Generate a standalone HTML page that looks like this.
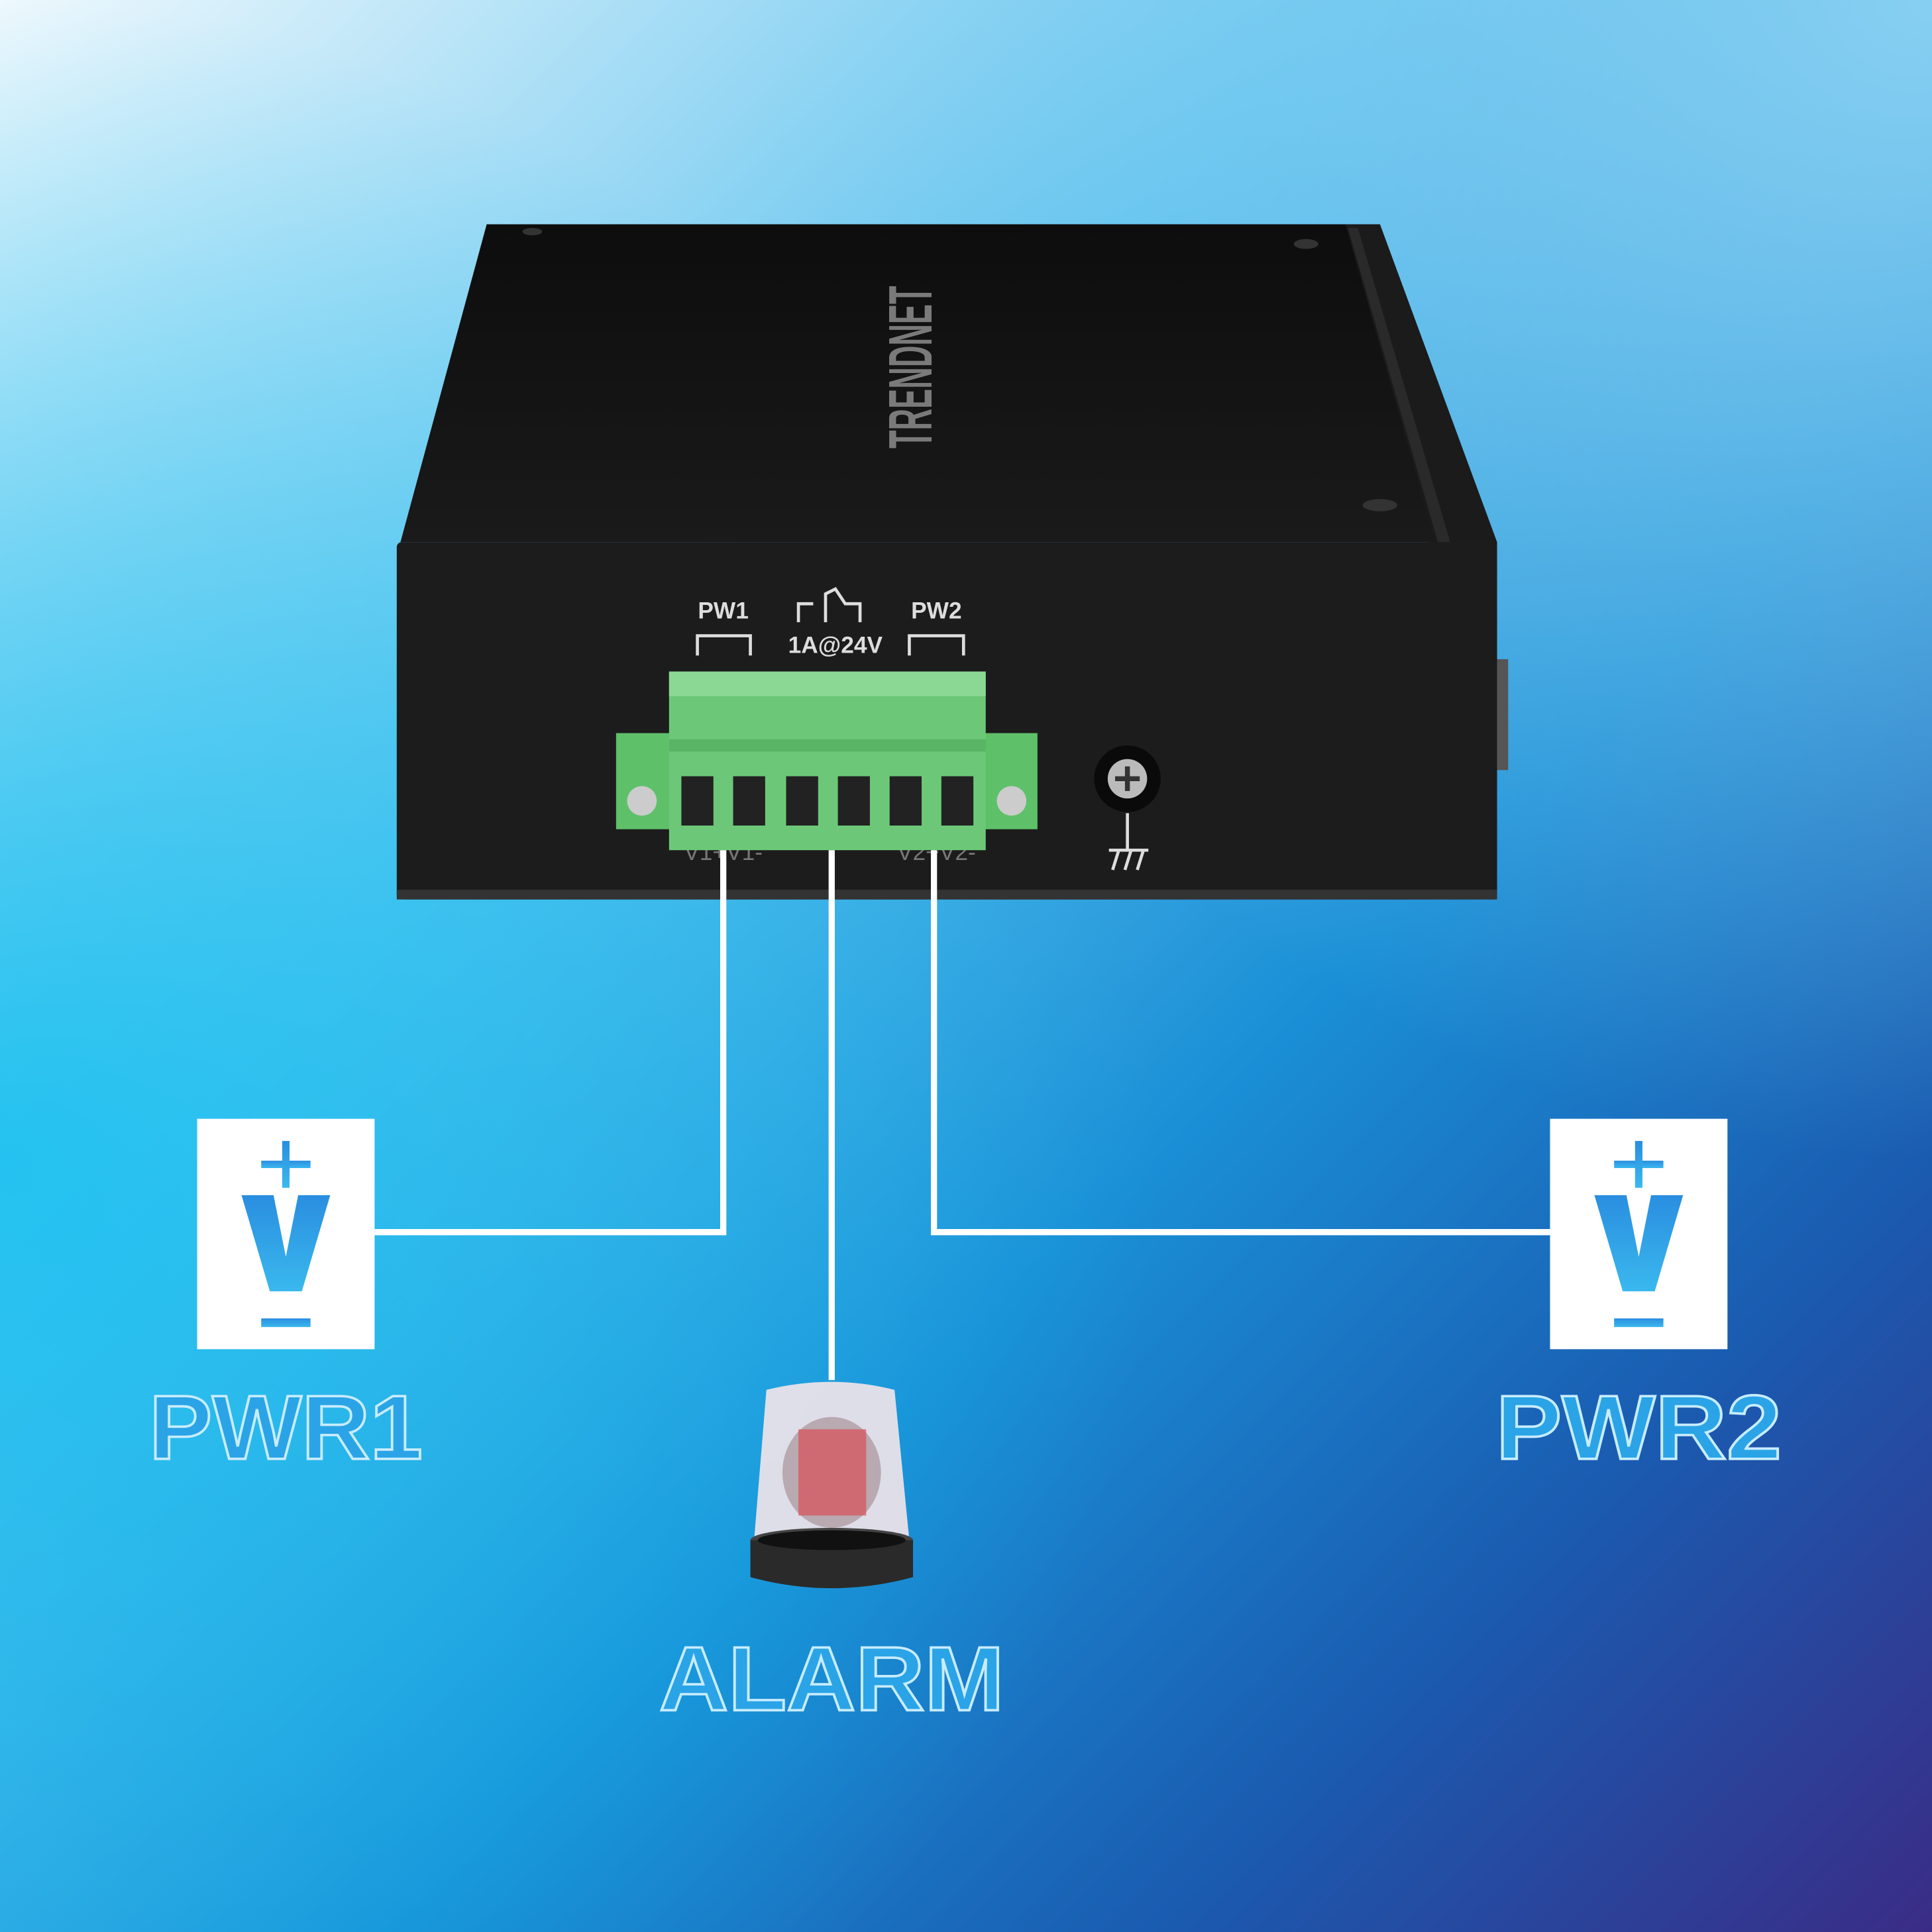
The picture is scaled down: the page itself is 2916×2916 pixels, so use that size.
<!DOCTYPE html>
<html><head><meta charset="utf-8"><style>
html,body{margin:0;padding:0;width:2916px;height:2916px;overflow:hidden}
svg{display:block}
</style></head><body>
<svg width="2916" height="2916" viewBox="0 0 1568 1568" xmlns="http://www.w3.org/2000/svg">
<defs>
<linearGradient id="bg1" x1="0" y1="0" x2="1" y2="1">
<stop offset="0" stop-color="#eef8fd"/>
<stop offset="0.35" stop-color="#5fc2ee"/>
<stop offset="0.6" stop-color="#1a8fd6"/>
<stop offset="0.8" stop-color="#1a5bb0"/>
<stop offset="1" stop-color="#3a2c86"/>
</linearGradient>
<radialGradient id="bg2" cx="0" cy="0.6" r="0.6">
<stop offset="0" stop-color="#10c0f0" stop-opacity="0.8"/>
<stop offset="1" stop-color="#10c0f0" stop-opacity="0"/>
</radialGradient>
<radialGradient id="bg3" cx="1" cy="0" r="0.6">
<stop offset="0" stop-color="#90d4f4" stop-opacity="0.9"/>
<stop offset="1" stop-color="#90d4f4" stop-opacity="0"/>
</radialGradient>
<linearGradient id="top" x1="0" y1="0" x2="0" y2="1">
<stop offset="0" stop-color="#0d0d0d"/><stop offset="1" stop-color="#1a1a1a"/>
</linearGradient>
<linearGradient id="vg" x1="0" y1="0" x2="0" y2="1">
<stop offset="0" stop-color="#2a8ee0"/><stop offset="1" stop-color="#3ab8ee"/>
</linearGradient>
</defs>
<rect width="1568" height="1568" fill="url(#bg1)"/>
<rect width="1568" height="1568" fill="url(#bg2)"/>
<rect width="1568" height="1568" fill="url(#bg3)"/>

<!-- device -->
<polygon points="1088,182 1120,182 1215,440 1215,730 1160,440" fill="#1b1b1b"/>
<rect x="1212" y="535" width="12" height="90" fill="#555"/>
<polygon points="395,182 1092,182 1165,440 325,440" fill="url(#top)"/>
<polygon points="1094,185 1102,185 1177,440 1167,440" fill="#2a2a2a"/>
<ellipse cx="1060" cy="198" rx="10" ry="4" fill="#333"/>
<ellipse cx="1120" cy="410" rx="14" ry="5" fill="#333"/>
<ellipse cx="432" cy="188" rx="8" ry="3" fill="#333"/>
<text x="0" y="0" transform="translate(756,298) rotate(-90)" text-anchor="middle" font-family="Liberation Sans, sans-serif" font-weight="bold" font-size="50" fill="#7a7a7a" textLength="132" lengthAdjust="spacingAndGlyphs">TRENDNET</text>
<rect x="322" y="440" width="893" height="290" rx="4" fill="#1c1c1c"/>
<rect x="322" y="722" width="893" height="8" fill="#333"/>
<g font-family="Liberation Sans, sans-serif" font-size="19" font-weight="bold" fill="#ddd" text-anchor="middle">
<text x="587" y="502">PW1</text><text x="760" y="502">PW2</text><text x="678" y="530">1A@24V</text>
</g>
<g font-family="Liberation Sans, sans-serif" font-size="19" fill="#777" text-anchor="middle">
<text x="587" y="698">V1+V1-</text><text x="760" y="698">V2+V2-</text>
</g>
<g fill="none" stroke="#ddd" stroke-width="2.5">
<path d="M566 532 V516 H609 V532"/><path d="M738 532 V516 H782 V532"/>
<path d="M648 505 V490 H660 M670 505 V482 L678 478 L686 490 H698 V505"/>
<path d="M915 660 V690 M900 690 H932 M903 706 L908 690 M913 706 L918 690 M923 706 L928 690"/>
</g>
<circle cx="915" cy="632" r="27" fill="#0a0a0a"/>
<circle cx="915" cy="632" r="16" fill="#bbb"/>
<path d="M905 632 H925 M915 622 V642" stroke="#333" stroke-width="4"/>
<!-- terminal block -->
<rect x="500" y="595" width="45" height="78" fill="#5fc06a"/>
<rect x="798" y="595" width="44" height="78" fill="#5fc06a"/>
<circle cx="521" cy="650" r="12" fill="#ccc"/><circle cx="821" cy="650" r="12" fill="#ccc"/>
<rect x="543" y="545" width="257" height="145" fill="#6cc878"/>
<rect x="543" y="545" width="257" height="20" fill="#8ad894"/>
<rect x="543" y="600" width="257" height="10" fill="#5ab466"/>
<g fill="#222">
<rect x="553" y="630" width="26" height="40"/><rect x="595" y="630" width="26" height="40"/>
<rect x="638" y="630" width="26" height="40"/><rect x="680" y="630" width="26" height="40"/>
<rect x="722" y="630" width="26" height="40"/><rect x="764" y="630" width="26" height="40"/>
</g>
<!-- lines -->
<g fill="none" stroke="#fff" stroke-width="5">
<path d="M587 690 V1000 H304"/>
<path d="M675 690 V1120"/>
<path d="M758 690 V1000 H1258"/>
</g>
<!-- boxes -->
<rect x="160" y="908" width="144" height="187" fill="#fff"/>
<rect x="1258" y="908" width="144" height="187" fill="#fff"/>
<g fill="url(#vg)">
<rect x="212" y="942" width="40" height="6"/><rect x="229" y="926" width="6" height="38"/>
<polygon points="196,970 222,970 232,1020 242,970 268,970 245,1048 219,1048"/>
<rect x="212" y="1070" width="40" height="7"/>
<rect x="1310" y="942" width="40" height="6"/><rect x="1327" y="926" width="6" height="38"/>
<polygon points="1294,970 1320,970 1330,1020 1340,970 1366,970 1343,1048 1317,1048"/>
<rect x="1310" y="1070" width="40" height="7"/>
</g>
<!-- alarm -->
<path d="M622 1128 Q675 1115 726 1128 L738 1250 H612 Z" fill="#f4e6ea" opacity="0.9"/>
<ellipse cx="675" cy="1195" rx="40" ry="45" fill="#b9a9b0"/>
<rect x="648" y="1160" width="55" height="70" fill="#d9505a" opacity="0.7"/>
<ellipse cx="675" cy="1250" rx="66" ry="10" fill="#444"/>
<path d="M609 1250 V1280 Q675 1298 741 1280 V1250 Z" fill="#2a2a2a"/>
<ellipse cx="675" cy="1250" rx="60" ry="8" fill="#111"/>
<!-- labels -->
<g font-family="Liberation Sans, sans-serif" font-weight="bold" fill="#2aa4e6" stroke="#c8ecff" stroke-width="2" text-anchor="middle">
<text x="232" y="1184" font-size="74" textLength="222" lengthAdjust="spacingAndGlyphs">PWR1</text>
<text x="1330" y="1184" font-size="74" textLength="232" lengthAdjust="spacingAndGlyphs">PWR2</text>
<text x="675" y="1388" font-size="74" textLength="280" lengthAdjust="spacingAndGlyphs">ALARM</text>
</g>
</svg>
</body></html>
